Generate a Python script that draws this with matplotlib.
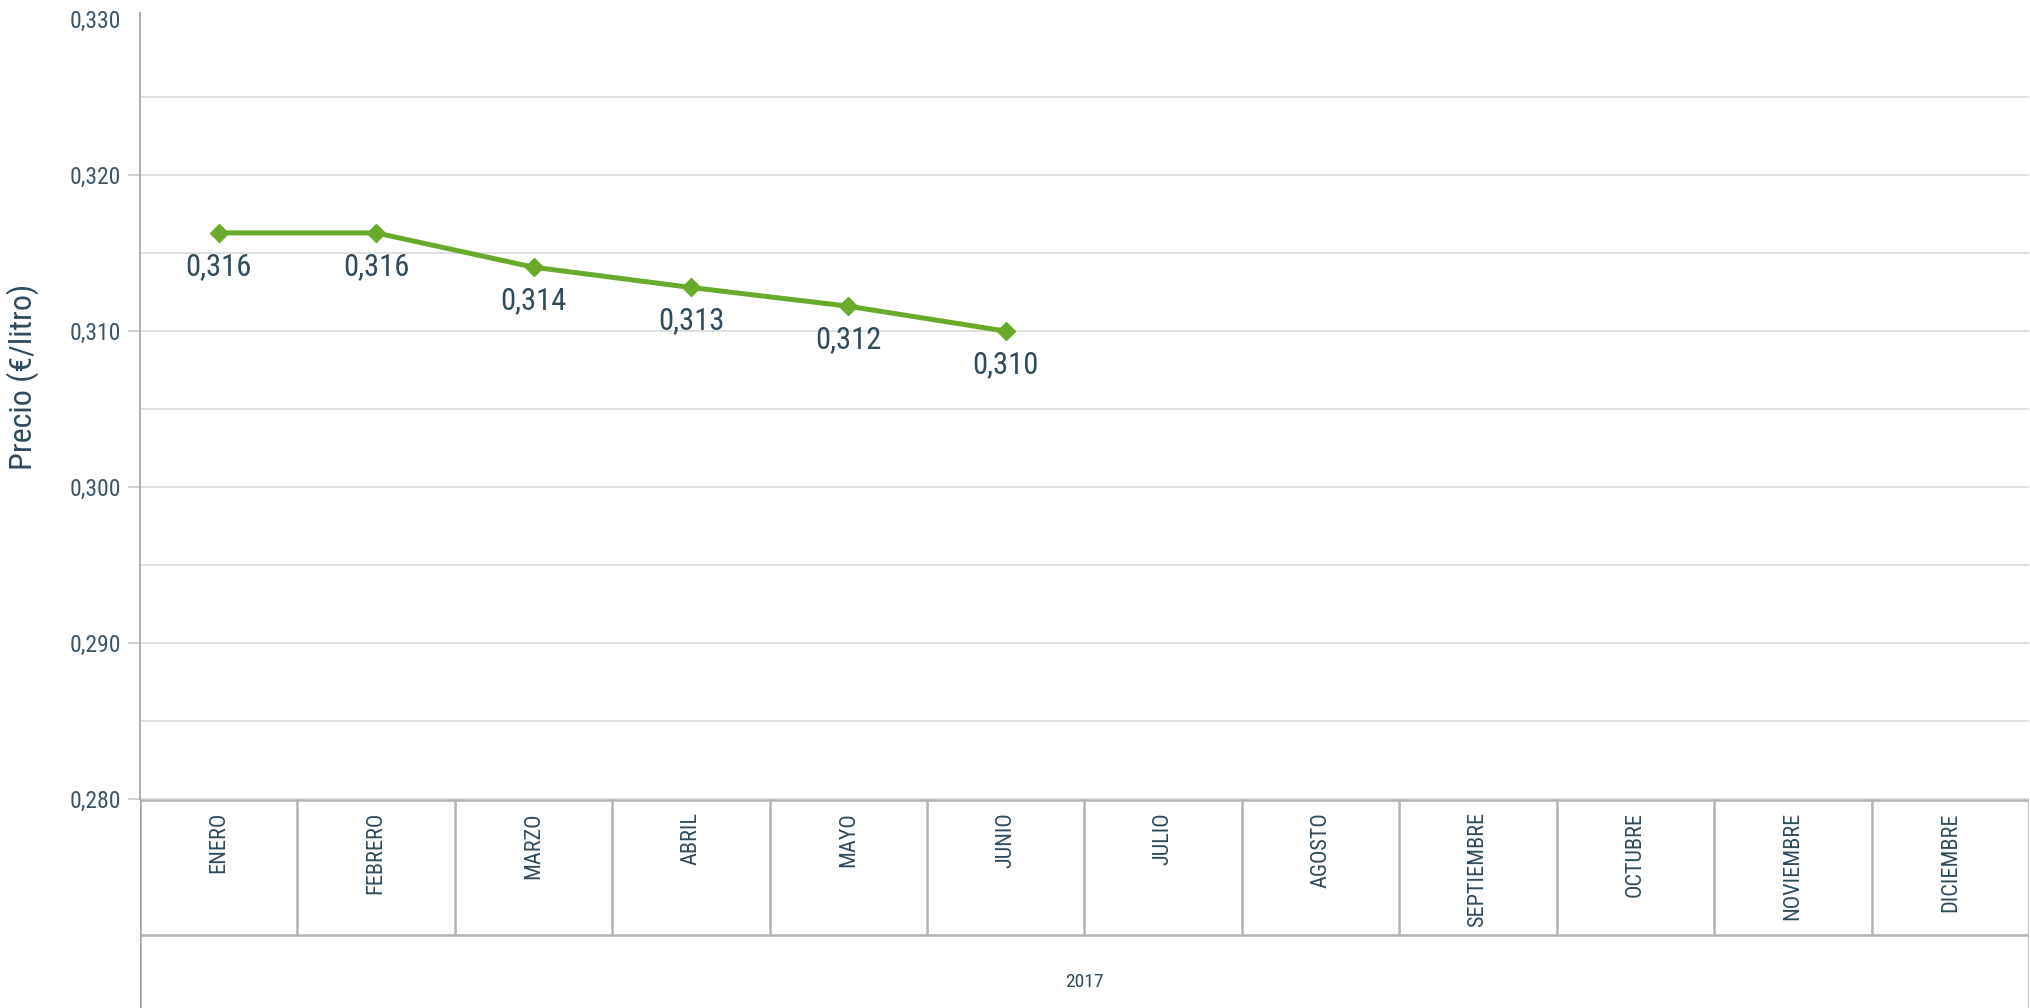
import numpy as np
import matplotlib.pyplot as plt
from matplotlib.ticker import FuncFormatter, MultipleLocator

# datos: precio medio mensual 2017
meses = ['ENERO', 'FEBRERO', 'MARZO', 'ABRIL', 'MAYO', 'JUNIO', 'JULIO',
         'AGOSTO', 'SEPTIEMBRE', 'OCTUBRE', 'NOVIEMBRE', 'DICIEMBRE']
precios = [0.3163, 0.3163, 0.3141, 0.3128, 0.3116, 0.3100]
etiquetas = ['0,316', '0,316', '0,314', '0,313', '0,312', '0,310']
anio = '2017'

plt.rcParams['font.family'] = ['Roboto Condensed', 'DejaVu Sans']
plt.rcParams['font.stretch'] = 'condensed'

W, H = 2031, 1008
texto = '#2e4a5b'
gris = '#b3b3b3'
verde = '#6aaa2a'

fig = plt.figure(figsize=(W / 100, H / 100), dpi=100)

# area del grafico (px)
x0, x1 = 140, 2029
y_top, y_axis, y_row, y_bot = 13, 799, 935, 1008

ax = fig.add_axes([x0 / W, 1 - y_axis / H, (x1 - x0) / W, (y_axis - y_top) / H])
n = len(meses)
ax.set_xlim(-0.5, n - 0.5)
ax.set_ylim(0.280, 0.3304)

ax.yaxis.set_major_locator(MultipleLocator(0.010))
ax.yaxis.set_minor_locator(MultipleLocator(0.005))
ax.yaxis.set_major_formatter(FuncFormatter(lambda v, p: f'{v:.3f}'.replace('.', ',')))
ax.grid(True, axis='y', which='both', color='#dcdcdc', lw=1.3)
ax.set_axisbelow(True)
ax.tick_params(axis='y', which='major', length=8.5, width=1.2, color='#c8c8c8',
               labelsize=17, labelcolor='#3b5566', pad=5)
ax.tick_params(axis='y', which='minor', length=0)
ax.set_xticks([])
for s in ['top', 'right', 'bottom']:
    ax.spines[s].set_visible(False)
ax.spines['left'].set_color('#a6a6a6')
ax.spines['left'].set_linewidth(1.3)

# sin linea de rejilla ni marca en 0,330
fig.canvas.draw()
for t in ax.yaxis.get_major_ticks():
    if abs(t.get_loc() - 0.330) < 1e-6:
        t.gridline.set_visible(False)
        t.tick1line.set_visible(False)
for t in ax.yaxis.get_minor_ticks():
    if abs(t.get_loc() - 0.330) < 1e-6:
        t.gridline.set_visible(False)

x = np.arange(len(precios))
ax.plot(x, precios, color=verde, lw=3.6, marker='D', ms=9, zorder=3)
for xi, yi, t in zip(x, precios, etiquetas):
    ax.annotate(t, (xi, yi), xytext=(0, -24), textcoords='offset points',
                ha='center', va='center', fontsize=22, color=texto)

fig.text(23 / W, 1 - 377 / H, 'Precio (€/litro)', rotation=90, ha='center',
         va='center', fontsize=23, color=texto)

# tabla de categorias debajo
tab = fig.add_axes([x0 / W, 0, (x1 - x0) / W, (y_bot - y_axis) / H])
tab.set_xlim(-0.5, n - 0.5)
tab.set_ylim(y_bot, y_axis)
tab.axis('off')
tab.hlines([y_axis + 0.5, y_row], -0.5, n - 0.5, color=gris, lw=1.8)
tab.vlines(np.arange(n - 1) + 0.5, y_axis, y_row, color=gris, lw=1.8)
tab.vlines([n - 0.5], y_axis, y_bot, color=gris, lw=1.8)
tab.vlines([-0.5], y_axis, y_bot, color='#a6a6a6', lw=1.8)
for i, m in enumerate(meses):
    tab.text(i, y_axis + 13, m, rotation=90, ha='center', va='top',
             fontsize=16, color=texto)
tab.text((n - 1) / 2, 982, anio, ha='center', va='center', fontsize=14, color=texto)

fig.savefig('out.png', dpi=100)
